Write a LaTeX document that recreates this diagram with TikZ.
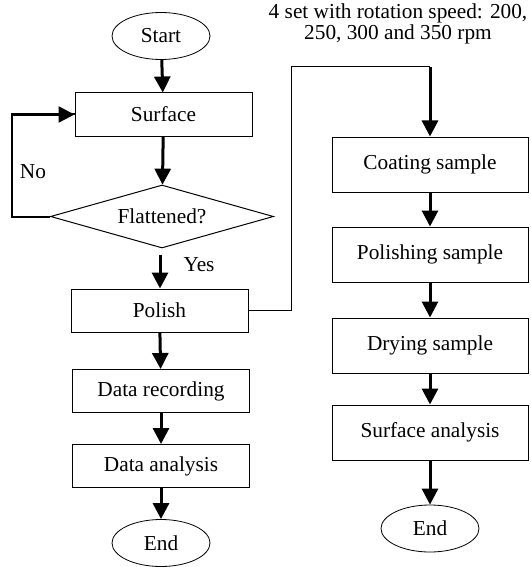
\documentclass[tikz,border=0pt]{standalone}
\usepackage{fontspec}
\setmainfont{Liberation Serif}
\usetikzlibrary{shapes.geometric,arrows.meta}
\begin{document}
\begin{tikzpicture}[x=1pt,y=-1pt,
  font=\fontsize{21.3}{22}\selectfont,
  thinline/.style={line width=1pt},
  box/.style={draw,line width=1pt,rectangle,inner sep=0pt},
  lbox/.style={box,minimum width=177pt,minimum height=43pt},
  rbox/.style={box,minimum width=196pt,minimum height=55pt},
  term/.style={draw,line width=0.8pt,ellipse,inner sep=0pt,minimum width=98pt,minimum height=47pt},
  dec/.style={draw,line width=1pt,diamond,aspect=3.5,inner sep=0pt,minimum width=223pt,minimum height=63pt},
  arr/.style={line width=3pt,-{Triangle[length=16pt,width=16pt]}},
  loopline/.style={line width=2pt}]
\useasboundingbox (0,0) rectangle (530,567);
% left column
\node[term] (start) at (161,36) {Start};
\node[lbox] (surf) at (163.5,114.5) {Surface};
\node[dec] (flat) at (162,216.5) {Flattened?};
\node[lbox] (pol) at (159.5,310.5) {Polish};
\node[lbox] (rec) at (161,391) {Data recording};
\node[lbox] (ana) at (161,466) {Data analysis};
\node[term] (end1) at (161,543) {End};
% right column
\node[rbox] (coat) at (430,164.5) {Coating sample};
\node[rbox] (psam) at (430,254.5) {Polishing sample};
\node[rbox] (dry) at (430,345.5) {Drying sample};
\node[rbox] (san) at (430,432.5) {Surface analysis};
\node[term] (end2) at (430,528.5) {End};
% labels
\node[align=center,font=\fontsize{21.3}{19}\selectfont] (note) at (398,24) {4 set with rotation speed: 200,\\250, 300 and 350 rpm};
\node (no) at (33,172) {No};
\node (yes) at (199,265) {Yes};
% arrows left
\draw[arr] (start) -- (surf);
\draw[arr] (surf) -- (flat);
\coordinate (ys) at (160,255);
\draw[arr] (ys) -- (pol.north -| ys);
\draw[arr] (pol) -- (rec);
\draw[arr] (rec) -- (ana);
\draw[arr] (ana) -- (end1);
% no loop
\coordinate (nl) at (12,216.5);
\draw[loopline] (flat.west) -- (nl) |- (surf.west);
\draw[arr,line width=2.5pt] (nl |- surf.west) -- (surf.west);
% to right column
\coordinate (c1) at (291,67);
\coordinate (c2) at (430,67);
\draw[thinline] (pol.east) -| (c1) -- (c2);
\draw[arr] (c2) -- (coat.north);
\draw[arr] (coat) -- (psam);
\draw[arr] (psam) -- (dry);
\draw[arr] (dry) -- (san);
\draw[arr] (san) -- (end2);
\end{tikzpicture}
\end{document}
